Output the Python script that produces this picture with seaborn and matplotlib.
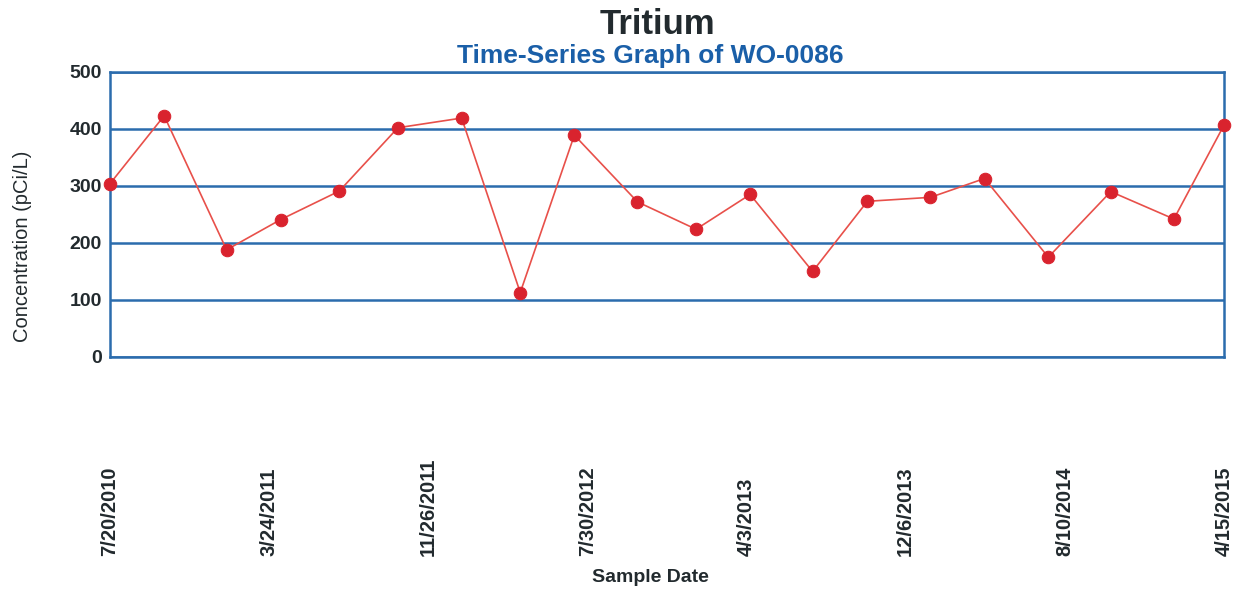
import matplotlib
matplotlib.use("Agg")
import matplotlib.pyplot as plt
import pandas as pd
import seaborn as sns

sample_dates = [
    "2010-07-20", "2010-10-12", "2011-01-17", "2011-04-11", "2011-07-11",
    "2011-10-10", "2012-01-17", "2012-04-17", "2012-07-10", "2012-10-16",
    "2013-01-15", "2013-04-09", "2013-07-15", "2013-10-08", "2014-01-14",
    "2014-04-08", "2014-07-16", "2014-10-21", "2015-01-27", "2015-04-15",
]
concentration = [
    304, 423, 188, 241, 291, 402, 419, 113, 389, 272,
    224, 285, 150, 273, 280, 313, 175, 290, 242, 407,
]
tick_dates = [
    "2010-07-20", "2011-03-24", "2011-11-26", "2012-07-30",
    "2013-04-03", "2013-12-06", "2014-08-10", "2015-04-15",
]
tick_labels = [
    "7/20/2010", "3/24/2011", "11/26/2011", "7/30/2012",
    "4/3/2013", "12/6/2013", "8/10/2014", "4/15/2015",
]
y_ticks = [0, 100, 200, 300, 400, 500]

BLUE = "#2b6cad"
RED = "#d9232e"
DARK = "#222a2e"

sns.set_style("white")
plt.rcParams["font.family"] = ["Liberation Sans", "DejaVu Sans"]

df = pd.DataFrame({"date": pd.to_datetime(sample_dates), "value": concentration})

fig = plt.figure(figsize=(12.42, 5.94), dpi=100)
ax = fig.add_axes([0.0886, 0.399, 0.897, 0.480])

sns.lineplot(data=df, x="date", y="value", ax=ax, color="#e8504a", linewidth=1.2,
             marker="o", markersize=9, markerfacecolor=RED, markeredgecolor=RED,
             clip_on=False, zorder=5)

ax.set_ylim(0, 500)
ax.set_yticks(y_ticks)
ax.set_xlim(pd.Timestamp(tick_dates[0]), pd.Timestamp(tick_dates[-1]))
ax.set_xticks(pd.to_datetime(tick_dates))
ax.set_xticklabels(tick_labels, rotation=90, va="bottom", ha="center",
                   fontsize=14.5, fontweight="bold", color=DARK)
ax.tick_params(axis="x", direction="out", length=16, width=2, color=BLUE, pad=127)
ax.tick_params(axis="y", length=0, pad=6, labelsize=14, labelcolor=DARK)
for lab in ax.get_yticklabels():
    lab.set_fontweight("bold")

ax.grid(axis="y", color=BLUE, linewidth=1.8)
ax.grid(axis="x", visible=False)
for side in ["left", "right", "top", "bottom"]:
    ax.spines[side].set_visible(True)
    ax.spines[side].set_color(BLUE)
    ax.spines[side].set_linewidth(1.8)

ax.set_xlabel("")
ax.set_ylabel("")
fig.text(0.018, 0.585, "Concentration (pCi/L)", rotation=90, ha="center", va="center",
         fontsize=14.5, color=DARK)
fig.text(0.524, 0.028, "Sample Date", ha="center", va="center",
         fontsize=14, fontweight="bold", color=DARK)
fig.text(0.529, 0.958, "Tritium", ha="center", va="center",
         fontsize=25, fontweight="bold", color=DARK)
fig.text(0.524, 0.906, "Time-Series Graph of WO-0086", ha="center", va="center",
         fontsize=19, fontweight="bold", color="#1a5fa8")

fig.savefig("out.png", dpi=100)
